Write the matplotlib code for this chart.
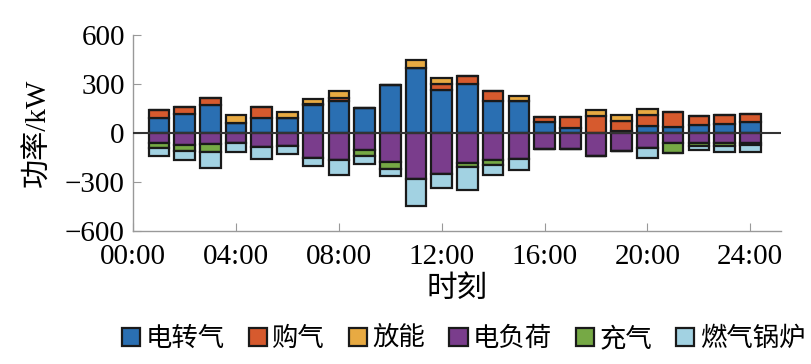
import matplotlib.pyplot as plt
import numpy as np

hours = np.arange(1, 25)

# positive side (kW)
p2g = [93, 119, 172, 63, 93, 89, 172, 196, 156, 291, 396, 262, 297, 198, 198, 65, 30, 0, 12, 44, 38, 50, 57, 67]
buy_gas = [46, 43, 40, 0, 69, 0, 6, 18, 0, 0, 0, 40, 53, 59, 0, 34, 67, 103, 63, 65, 89, 53, 56, 50]
discharge = [0, 0, 0, 48, 0, 38, 28, 43, 0, 0, 53, 33, 0, 0, 30, 0, 0, 40, 36, 41, 0, 0, 0, 0]

# negative side (kW)
elec_load = [-60, -71, -69, -61, -87, -79, -150, -164, -105, -180, -279, -253, -184, -164, -156, -97, -97, -143, -111, -91, -59, -62, -62, -58]
charge = [-30, -40, -46, 0, 0, 0, 0, 0, -34, -40, 0, 0, -24, -30, 0, 0, 0, 0, 0, 0, -66, -18, -18, -15]
boiler = [-51, -53, -99, -53, -73, -50, -53, -93, -50, -40, -168, -83, -141, -61, -72, 0, 0, 0, 0, -59, 0, -25, -35, -45]

labels = ['电转气', '购气', '放能', '电负荷', '充气', '燃气锅炉']
colors = ['#2a6fb2', '#d65a2e', '#e8aa42', '#7a3d8c', '#76a945', '#a2d2e2']

plt.rcParams['font.family'] = ['Liberation Serif', 'Noto Sans CJK SC']
plt.rcParams['axes.unicode_minus'] = True

fig = plt.figure(figsize=(8.12, 3.64), dpi=100)
ax = fig.add_axes([0.164, 0.365, 0.798, 0.539])

bar_kw = dict(width=0.8, edgecolor='#1a1a1a', linewidth=1.6, zorder=3)

pos_bottom = np.zeros(len(hours))
for vals, lab, col in zip([p2g, buy_gas, discharge], labels[:3], colors[:3]):
    ax.bar(hours, vals, bottom=pos_bottom, color=col, label=lab, **bar_kw)
    pos_bottom += np.array(vals)

neg_bottom = np.zeros(len(hours))
for vals, lab, col in zip([elec_load, charge, boiler], labels[3:], colors[3:]):
    ax.bar(hours, vals, bottom=neg_bottom, color=col, label=lab, **bar_kw)
    neg_bottom += np.array(vals)

ax.axhline(0, color='#333333', linewidth=1.5, zorder=4)

ax.set_xlim(0, 25.2)
ax.set_ylim(-600, 600)
ax.set_xticks(np.arange(0, 25, 4))
ax.set_xticklabels(['00:00', '04:00', '08:00', '12:00', '16:00', '20:00', '24:00'])
ax.set_yticks([-600, -300, 0, 300, 600])
ax.tick_params(direction='in', length=6, color='#999999', labelsize=21)
ax.tick_params(axis='x', pad=9)
ax.tick_params(axis='y', pad=6)

for s in ['top', 'right']:
    ax.spines[s].set_visible(False)
for s in ['left', 'bottom']:
    ax.spines[s].set_color('#999999')
    ax.spines[s].set_linewidth(1.0)

ax.set_ylabel('功率/kW', fontsize=21, labelpad=10)
ax.set_xlabel('时刻', fontsize=22, labelpad=4)

ax.legend(loc='upper center', bbox_to_anchor=(0.51, -0.43), ncol=6, frameon=False,
          fontsize=19, handlelength=0.7, handleheight=0.7, handletextpad=0.2,
          columnspacing=0.9, borderaxespad=0)

fig.savefig('out.png', dpi=100)
